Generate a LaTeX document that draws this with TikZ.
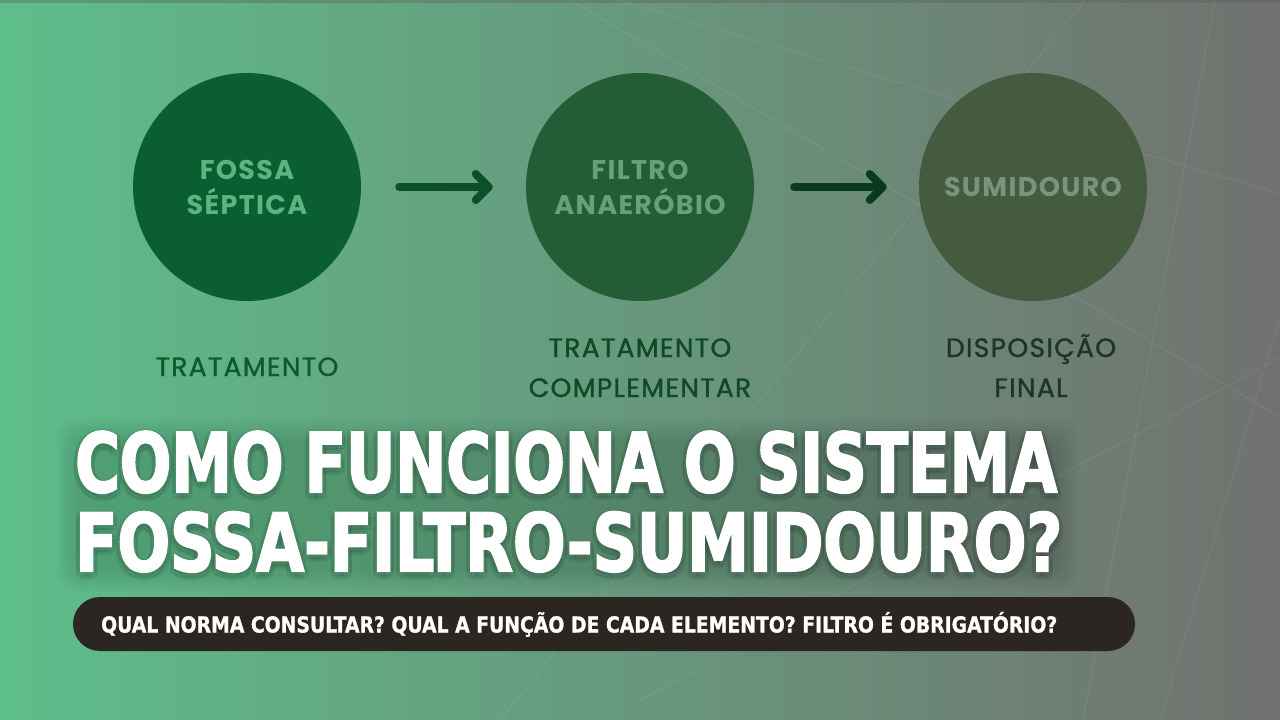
\documentclass[tikz,border=0pt]{standalone}
\usepackage{fontspec}
\usepackage{graphicx}
\usetikzlibrary{arrows.meta,calc}
\setmainfont{Poppins}
\newfontfamily\popmed{Poppins}[FakeBold=1.2, LetterSpace=5]
\newfontfamily\popc{Poppins}[LetterSpace=5]
\newfontfamily\titlefont{DejaVu Sans Condensed}[BoldFeatures={FakeBold=2.5}]
\newfontfamily\barfont{DejaVu Sans Condensed}[BoldFeatures={FakeBold=1.2}]
\definecolor{bgL}{RGB}{94,190,138}
\definecolor{bgM}{RGB}{99,152,117}
\definecolor{bgR}{RGB}{113,113,111}
\definecolor{cA}{RGB}{11,94,49}
\definecolor{cB}{RGB}{36,92,54}
\definecolor{cC}{RGB}{69,91,63}
\definecolor{tA}{RGB}{93,180,126}
\definecolor{tB}{RGB}{104,160,124}
\definecolor{tC}{RGB}{120,148,124}
\definecolor{aA}{RGB}{11,80,40}
\definecolor{aB}{RGB}{10,58,30}
\definecolor{lA}{RGB}{14,90,44}
\definecolor{lB}{RGB}{14,74,38}
\definecolor{lC}{RGB}{25,55,36}
\definecolor{barcol}{RGB}{43,38,34}
\newcommand\TitleA{\resizebox{982pt}{\height}{\titlefont\bfseries\fontsize{82pt}{82pt}\selectfont COMO FUNCIONA O SISTEMA}}
\newcommand\TitleB{\resizebox{987pt}{\height}{\titlefont\bfseries\fontsize{80pt}{80pt}\selectfont FOSSA-FILTRO-SUMIDOURO?}}
\newcommand\BarText{\resizebox{956pt}{\height}{\barfont\bfseries\fontsize{22pt}{22pt}\selectfont QUAL NORMA CONSULTAR? QUAL A FUNÇÃO DE CADA ELEMENTO? FILTRO É OBRIGATÓRIO?}}
\begin{document}
\begin{tikzpicture}[x=1pt,y=-1pt,
  circ/.style={circle, minimum size=228pt, inner sep=0pt},
  ctext/.style={anchor=base, inner sep=0pt, font=\fontsize{27pt}{27pt}\selectfont\popc\bfseries},
  lbl/.style={anchor=base, inner sep=0pt, font=\fontsize{26.5pt}{26.5pt}\selectfont\popmed},
  flow/.style={line width=8pt, line cap=round, -{Straight Barb[length=13pt,width=26pt,round]}},
  bgline/.style={white, opacity=0.06, line width=1.3pt},
  ttl/.style={anchor=base west, inner sep=0pt},
  glow/.style={ttl, text=black, opacity=0.045},
]
\useasboundingbox (0,0) rectangle (1280,720);
% background
\shade[left color=bgL, middle color=bgM, right color=bgR] (0,0) rectangle (1280,720);
\fill[gray!70!black, opacity=0.35] (0,0) rectangle (1280,3);
% faint background lines
\draw[bgline] (600,-5) -- (1285,195);
\draw[bgline] (1085,0) -- (500,720);
\draw[bgline] (570,0) -- (1285,420);
\draw[bgline] (1215,0) -- (1083,720);
\draw[bgline] (1285,355) -- (640,700);
\draw[bgline] (1285,300) -- (1160,720);
% circles
\node[circ, fill=cA] (c1) at (247,187) {};
\node[circ, fill=cB] (c2) at (640,187) {};
\node[circ, fill=cC] (c3) at (1033,187) {};
\node[ctext, text=tA] (c1a) at (247,179) {FOSSA};
\node[ctext, text=tA] (c1b) at (247,214) {SÉPTICA};
\node[ctext, text=tB] (c2a) at (640,179) {FILTRO};
\node[ctext, text=tB] (c2b) at (640,214) {ANAERÓBIO};
\node[ctext, text=tC] (c3a) at (1033,196) {SUMIDOURO};
% arrows
\draw[flow, aA, shorten <=38pt, shorten >=33pt] (c1) -- (c2);
\draw[flow, aB, shorten <=40pt, shorten >=32pt] (c2) -- (c3);
% labels
\node[lbl, text=lA] (l1) at (247,376) {TRATAMENTO};
\node[lbl, text=lB] (l2a) at (640,357) {TRATAMENTO};
\node[lbl, text=lB] (l2b) at (640,397) {COMPLEMENTAR};
\node[lbl, text=lC] (l3a) at (1031,357) {DISPOSIÇÃO};
\node[lbl, text=lC] (l3b) at (1031,397) {FINAL};
% title glow: faint soft band plus shadow copies close to the letters
\foreach \i in {0,...,9}{
  \fill[black, opacity=0.011, rounded corners=20pt]
    ($(55,418)+(\i*2.5,\i*2.5)$) rectangle ($(1080,592)-(\i*2.5,\i*2.5)$);
}
\foreach \a in {30,90,...,330}{
  \node[glow] at ($(75,495)+(\a:4.5)$) {\TitleA};
  \node[glow] at ($(75,574)+(\a:4.5)$) {\TitleB};
}
\node[ttl, text=white] (t1) at (75,492) {\TitleA};
\node[ttl, text=white] (t2) at (75,571) {\TitleB};
% bottom bar
\node[fill=barcol, rounded corners=27pt, minimum width=1062pt, minimum height=54pt, inner sep=0pt] (bar) at (604,624) {};
\node[ttl, text=white] (bt) at (101,632.5) {\BarText};
\end{tikzpicture}
\end{document}
